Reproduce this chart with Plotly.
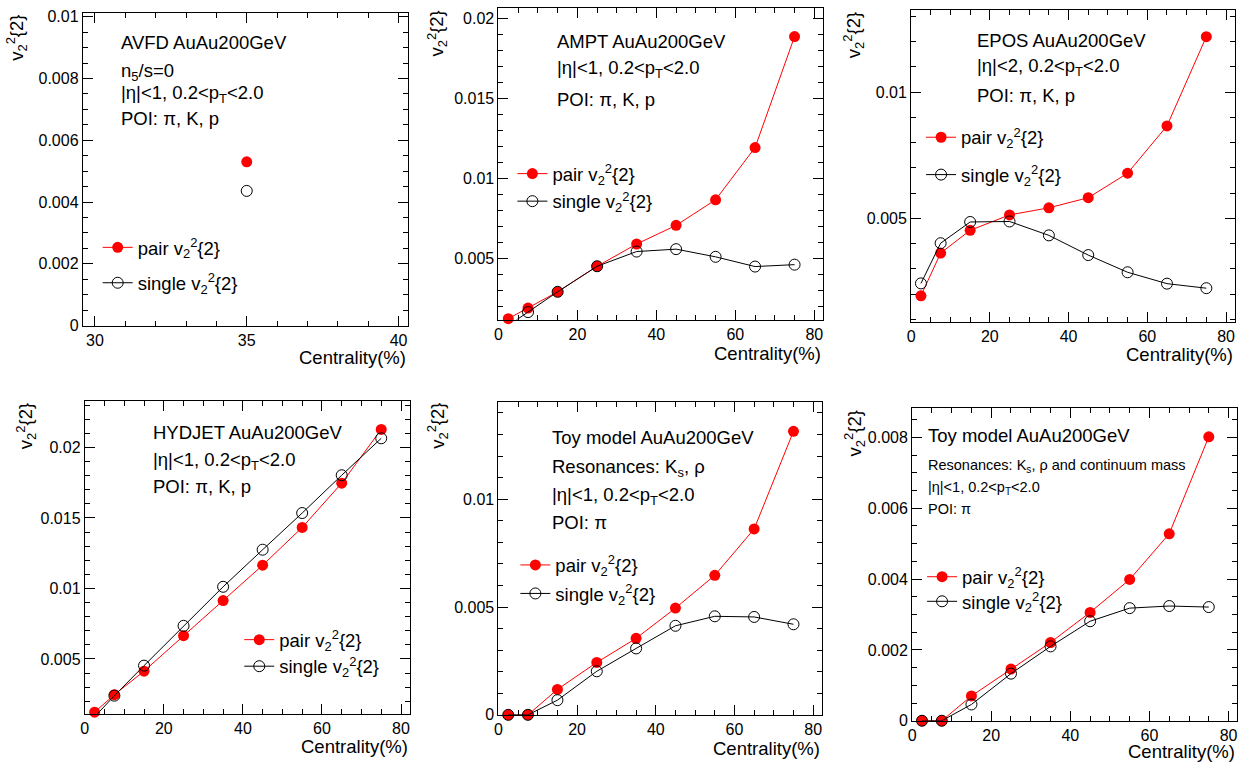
import plotly.graph_objects as go

# ---------------- data ----------------
cent = [2.5, 7.5, 15, 25, 35, 45, 55, 65, 75]

avfd_cent = [35]
avfd_pair = [0.0053]
avfd_single = [0.00436]

ampt_pair = [0.00123, 0.00189, 0.00291, 0.00451, 0.0059, 0.00707, 0.00867, 0.01194, 0.01889]
ampt_single = [0.0008, 0.00164, 0.00291, 0.00451, 0.00543, 0.00558, 0.0051, 0.00449, 0.00461]

epos_pair = [0.00194, 0.00363, 0.00453, 0.00514, 0.00542, 0.00582, 0.00679, 0.00866, 0.01219]
epos_single = [0.00243, 0.00402, 0.00486, 0.00488, 0.00433, 0.00355, 0.00287, 0.00242, 0.00224]

hydjet_pair = [0.00123, 0.00247, 0.00414, 0.00665, 0.00914, 0.01165, 0.01433, 0.01747, 0.02128]
hydjet_single = [0.0009, 0.0024, 0.00453, 0.00735, 0.01012, 0.01275, 0.01535, 0.01803, 0.02065]

toy1_pair = [0, 0, 0.00118, 0.00243, 0.00355, 0.00495, 0.00647, 0.00862, 0.01315]
toy1_single = [0, 0, 0.00068, 0.00202, 0.00308, 0.00413, 0.00457, 0.00454, 0.0042]

toy2_pair = [0, 0, 0.0007, 0.00146, 0.00221, 0.00306, 0.00399, 0.00528, 0.00802]
toy2_single = [0, 0, 0.00046, 0.00133, 0.0021, 0.00281, 0.00318, 0.00324, 0.00321]

x_ticks_avfd = [30, 35, 40]
x_ticks = [0, 20, 40, 60, 80]
y_ticks_avfd = [0, 0.002, 0.004, 0.006, 0.008, 0.01]
y_ticks_avfd_text = ["0", "0.002", "0.004", "0.006", "0.008", "0.01"]
y_ticks_5 = [0.005, 0.01, 0.015, 0.02]
y_ticks_5_text = ["0.005", "0.01", "0.015", "0.02"]
y_ticks_toy1 = [0, 0.005, 0.01]
y_ticks_toy1_text = ["0", "0.005", "0.01"]
y_ticks_toy2 = [0, 0.002, 0.004, 0.006, 0.008]
y_ticks_toy2_text = ["0", "0.002", "0.004", "0.006", "0.008"]

pair_label = "pair v<sub>2</sub><sup>2</sup>{2}"
single_label = "single v<sub>2</sub><sup>2</sup>{2}"
ytitle = "v<sub>2</sub><sup>2</sup>{2}"
xtitle = "Centrality(%)"

# ---------------- layout helpers ----------------
W, H = 1258, 773
FONT = "Liberation Sans, Arial, Helvetica, sans-serif"


def px_x(p):
    return p / W


def px_y(p):
    return 1 - p / H


panels = [
    dict(name="avfd", x=avfd_cent, pair=avfd_pair, single=avfd_single,
         box=(79, 405, 9, 327), xr=[29.6, 40.3], yr=[0, 0.010127],
         xt=x_ticks_avfd, xminor=1, yt=y_ticks_avfd, ytt=y_ticks_avfd_text, yminor=0.0005,
         clip_single=False,
         texts=[("AVFD AuAu200GeV", 115, 39, 18.5),
                ("n<sub>5</sub>/s=0", 115, 69, 18.5),
                ("|η|<1, 0.2<p<sub>T</sub><2.0", 115, 92, 18.5),
                ("POI: π, K, p", 115, 116, 18.5)],
         leg=(117, 248, 284), yt_pos=(13, 9), xtitle_y=360),
    dict(name="ampt", x=cent, pair=ampt_pair, single=ampt_single,
         box=(496, 822, 4, 321), xr=[0, 82.3], yr=[0.00117, 0.02068],
         xt=x_ticks, xminor=5, yt=y_ticks_5, ytt=y_ticks_5_text, yminor=0.001,
         clip_single=True,
         texts=[("AMPT AuAu200GeV", 553, 38, 18.5),
                ("|η|<1, 0.2<p<sub>T</sub><2.0", 553, 66, 18.5),
                ("POI: π, K, p", 553, 97, 18.5)],
         leg=(533, 173, 201), yt_pos=(435, 5), xtitle_y=355),
    dict(name="epos", x=cent, pair=epos_pair, single=epos_single,
         box=(910, 1235, 6, 323), xr=[0, 82.3], yr=[0.00092, 0.01325],
         xt=x_ticks, xminor=5, yt=[0.005, 0.01], ytt=["0.005", "0.01"], yminor=0.001,
         clip_single=False,
         texts=[("EPOS AuAu200GeV", 974, 37, 18.5),
                ("|η|<2, 0.2<p<sub>T</sub><2.0", 974, 64, 18.5),
                ("POI: π, K, p", 974, 93, 18.5)],
         leg=(943, 136, 174), yt_pos=(853, 6), xtitle_y=357),
    dict(name="hydjet", x=cent, pair=hydjet_pair, single=hydjet_single,
         box=(81, 407, 404, 722), xr=[0, 82.2], yr=[0.00111, 0.02328],
         xt=x_ticks, xminor=5, yt=y_ticks_5, ytt=y_ticks_5_text, yminor=0.001,
         clip_single=True,
         texts=[("HYDJET AuAu200GeV", 147, 436, 18.5),
                ("|η|<1, 0.2<p<sub>T</sub><2.0", 147, 465, 18.5),
                ("POI: π, K, p", 147, 491, 18.5)],
         leg=(259, 647, 674), yt_pos=(22, 404), xtitle_y=755),
    dict(name="toy1", x=cent, pair=toy1_pair, single=toy1_single,
         box=(496, 821, 405, 723), xr=[0, 82.35], yr=[0, 0.0145],
         xt=x_ticks, xminor=5, yt=y_ticks_toy1, ytt=y_ticks_toy1_text, yminor=0.001,
         clip_single=False,
         texts=[("Toy model AuAu200GeV", 548, 441, 18.5),
                ("Resonances: K<sub>s</sub>, ρ", 548, 472, 18.5),
                ("|η|<1, 0.2<p<sub>T</sub><2.0", 548, 500, 18.5),
                ("POI: π", 548, 527, 18.5)],
         leg=(536, 571, 600), yt_pos=(435, 404), xtitle_y=757),
    dict(name="toy2", x=cent, pair=toy2_pair, single=toy2_single,
         box=(911, 1237, 411, 729), xr=[0, 82.15], yr=[0, 0.00883],
         xt=x_ticks, xminor=5, yt=y_ticks_toy2, ytt=y_ticks_toy2_text, yminor=0.0005,
         clip_single=False,
         texts=[("Toy model AuAu200GeV", 925, 439, 18.5),
                ("Resonances: K<sub>s</sub>, ρ and continuum mass", 925, 470, 14.5),
                ("|η|<1, 0.2<p<sub>T</sub><2.0", 925, 492, 14.5),
                ("POI: π", 925, 514, 14.5)],
         leg=(944, 583, 608), yt_pos=(853, 411), xtitle_y=760),
]

fig = go.Figure()
annotations = []
layout = dict(
    width=W, height=H,
    margin=dict(l=0, r=0, t=0, b=0),
    paper_bgcolor="white", plot_bgcolor="white",
    font=dict(family=FONT, size=16, color="black"),
    showlegend=True,
    legend=dict(visible=False),
)

leg_idx = 2
for i, p in enumerate(panels):
    n = "" if i == 0 else str(i + 1)
    xa, ya = "x" + n, "y" + n
    l, r, t, b = p["box"]
    common = dict(showline=True, linecolor="black", linewidth=1, mirror="ticks",
                  ticks="inside", ticklen=10, tickwidth=1, tickcolor="black",
                  showgrid=False, zeroline=False, fixedrange=True,
                  tickfont=dict(family=FONT, size=16, color="black"))
    layout["xaxis" + n] = dict(
        domain=[px_x(l), px_x(r)], range=p["xr"], anchor=ya,
        tickmode="array", tickvals=p["xt"], ticktext=[str(v) for v in p["xt"]],
        minor=dict(ticks="inside", ticklen=5, tickcolor="black", tickwidth=1,
                   tickmode="linear", tick0=0, dtick=p["xminor"], showgrid=False),
        **common)
    layout["yaxis" + n] = dict(
        domain=[px_y(b), px_y(t)], range=p["yr"], anchor=xa,
        tickmode="array", tickvals=p["yt"], ticktext=p["ytt"],
        minor=dict(ticks="inside", ticklen=5, tickcolor="black", tickwidth=1,
                   tickmode="linear", tick0=0, dtick=p["yminor"], showgrid=False),
        **common)

    # legends (one per entry so each row can be placed precisely)
    mx, y_pair, y_single = p["leg"]
    lname_pair = "legend" + str(leg_idx)
    lname_single = "legend" + str(leg_idx + 1)
    leg_idx += 2
    for lname, yy in ((lname_pair, y_pair), (lname_single, y_single)):
        layout[lname] = dict(x=px_x(mx - 23), y=px_y(yy), xanchor="left", yanchor="middle",
                             bgcolor="rgba(0,0,0,0)", borderwidth=0, visible=True,
                             font=dict(family=FONT, size=18.5, color="black"),
                             itemwidth=30, tracegroupgap=0)

    fig.add_trace(go.Scatter(
        x=p["x"], y=p["pair"], mode="lines+markers", name=pair_label,
        xaxis=xa, yaxis=ya, legend=lname_pair, cliponaxis=False, showlegend=True,
        line=dict(color="red", width=1),
        marker=dict(symbol="circle", size=11, color="red", line=dict(width=0))))
    fig.add_trace(go.Scatter(
        x=p["x"], y=p["single"], mode="lines+markers", name=single_label,
        xaxis=xa, yaxis=ya, legend=lname_single, cliponaxis=p["clip_single"], showlegend=True,
        line=dict(color="black", width=1),
        marker=dict(symbol="circle-open", size=11, color="black", line=dict(width=1))))

    for txt, tx, ty, fs in p["texts"]:
        annotations.append(dict(text=txt, xref="paper", yref="paper",
                                x=px_x(tx), y=px_y(ty), xanchor="left", yanchor="middle",
                                showarrow=False, font=dict(family=FONT, size=fs, color="black")))
    # axis titles
    annotations.append(dict(text=xtitle, xref="paper", yref="paper",
                            x=px_x(r), y=px_y(p["xtitle_y"]), xanchor="right", yanchor="middle",
                            showarrow=False, font=dict(family=FONT, size=18.5, color="black")))
    yx, ytop = p["yt_pos"]
    annotations.append(dict(text=ytitle, xref="paper", yref="paper", textangle=-90,
                            x=px_x(yx), y=px_y(ytop), xanchor="center", yanchor="top",
                            showarrow=False, font=dict(family=FONT, size=18.5, color="black")))

layout["annotations"] = annotations
fig.update_layout(**layout)
fig.write_html("out.html")
